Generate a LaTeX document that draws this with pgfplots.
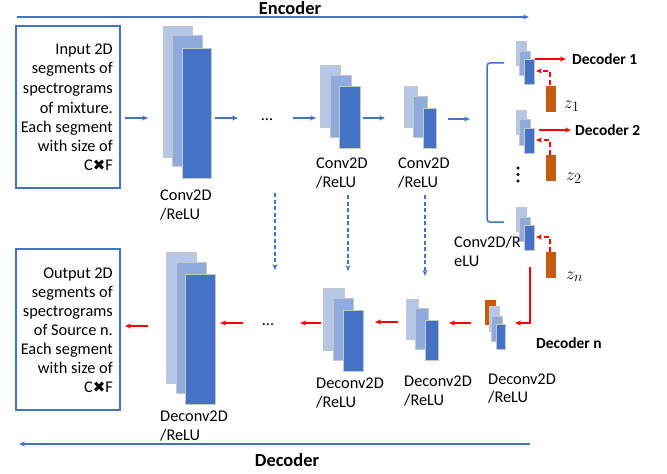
\documentclass[border=0pt]{standalone}
\usepackage{pgfplots}
\pgfplotsset{compat=1.18}
\usepackage{fontspec}
\setmainfont{Carlito}
\newfontfamily\dv{DejaVu Sans}
\usetikzlibrary{arrows.meta}
\definecolor{lb}{HTML}{B4C7E7}
\definecolor{mb}{HTML}{8FAADC}
\definecolor{db}{HTML}{4472C4}
\definecolor{og}{HTML}{C55A11}
\definecolor{ln}{HTML}{4472C4}
\definecolor{rd}{HTML}{FF0000}
\newcommand{\rb}[5]{\addplot[draw=black!22,line width=0.7bp,fill=#5] coordinates {(#1,#2)(#3,#2)(#3,#4)(#1,#4)} -- cycle;}
\newcommand{\ob}[4]{\addplot[draw=og,line width=0.5bp,fill=og] coordinates {(#1,#2)(#3,#2)(#3,#4)(#1,#4)} -- cycle;}
\newcommand{\CxF}{C\raisebox{-0.5bp}{\dv\fontsize{15}{15}\selectfont ✖}F}
\tikzset{
  bl/.style={ln,line width=1.4bp,-{Stealth[length=6bp,width=5bp]}},
  bld/.style={ln,line width=1.3bp,dash pattern=on 4bp off 2.5bp,-{Stealth[length=6bp,width=5bp]}},
  rl/.style={rd,line width=1.4bp,-{Stealth[length=6bp,width=5bp]}},
  rld/.style={rd,line width=1.4bp,dash pattern=on 5bp off 3bp,-{Stealth[length=6bp,width=5bp]}},
  tx/.style={inner sep=0pt,font=\fontsize{16.4}{18}\selectfont},
  bt/.style={inner sep=0pt,font=\fontsize{15.5}{18}\selectfont\bfseries},
  bt2/.style={inner sep=0pt,font=\fontsize{18.5}{20}\selectfont\bfseries},
  zt/.style={inner sep=0pt,font=\fontsize{19}{20}\selectfont},
}
\begin{document}
\begin{tikzpicture}
\begin{axis}[width=667bp,height=474bp,scale only axis,xmin=0,xmax=667,ymin=0,ymax=474,
  y dir=reverse,hide axis,clip=false]
% encoder / decoder lines
\addplot[bl,line width=1.6bp] coordinates {(17,17)(529,17)};
\node[bt2,anchor=base] at (axis cs:290,15) {Encoder};
\addplot[bl,line width=1.6bp] coordinates {(530,444)(19,444)};
\node[bt2,anchor=base] at (axis cs:287,466) {Decoder};
% input box
\addplot[draw=ln,line width=1.5bp] coordinates {(16,26)(120,26)(120,188)(16,188)} -- cycle;
\node[tx,anchor=base east] at (axis cs:113,55) {Input 2D};
\node[tx,anchor=base east] at (axis cs:113,74) {segments of};
\node[tx,anchor=base east] at (axis cs:113,93) {spectrograms};
\node[tx,anchor=base east] at (axis cs:113,113) {of mixture.};
\node[tx,anchor=base east] at (axis cs:113,132) {Each segment};
\node[tx,anchor=base east] at (axis cs:113,151) {with size of};
\node[tx,anchor=base east] at (axis cs:113,170) {\CxF};
% output box
\addplot[draw=ln,line width=1.5bp] coordinates {(16,249)(120,249)(120,410)(16,410)} -- cycle;
\node[tx,anchor=base east] at (axis cs:113,278) {Output 2D};
\node[tx,anchor=base east] at (axis cs:113,297) {segments of};
\node[tx,anchor=base east] at (axis cs:113,316) {spectrograms};
\node[tx,anchor=base east] at (axis cs:113,335) {of Source n.};
\node[tx,anchor=base east] at (axis cs:113,354) {Each segment};
\node[tx,anchor=base east] at (axis cs:113,373) {with size of};
\node[tx,anchor=base east] at (axis cs:113,392) {\CxF};
% encoder arrows
\addplot[bl] coordinates {(125,118)(148,118)};
\addplot[bl] coordinates {(215,118)(238,118)};
\node[tx,anchor=base] at (axis cs:267,120) {...};
\addplot[bl] coordinates {(293,118)(316,118)};
\addplot[bl] coordinates {(363,118)(385,118)};
\addplot[bl] coordinates {(448,119)(470,119)};
% conv1
\rb{163}{26}{192}{157}{lb}
\rb{172}{35}{202}{166}{mb}
\rb{182}{48}{211}{178}{db}
\node[tx,anchor=base west] at (axis cs:160,200) {Conv2D};
\node[tx,anchor=base west] at (axis cs:160,219) {/ReLU};
% conv2
\rb{320}{65}{340}{127}{lb}
\rb{330}{75}{351}{137}{mb}
\rb{339}{86}{360}{148}{db}
\node[tx,anchor=base west] at (axis cs:316,168) {Conv2D};
\node[tx,anchor=base west] at (axis cs:316,187) {/ReLU};
% conv3
\rb{404}{86}{417}{127}{lb}
\rb{413}{96}{427}{137}{mb}
\rb{423}{108}{436}{148}{db}
\node[tx,anchor=base west] at (axis cs:398,168) {Conv2D};
\node[tx,anchor=base west] at (axis cs:398,187) {/ReLU};
% bracket
\addplot[ln,line width=1.5bp,rounded corners=3bp] coordinates {(504,63)(487,63)(487,222)(504,222)};
% small stack A
\rb{516}{41}{526}{65}{lb}
\rb{519}{51}{530}{75}{mb}
\rb{524}{59}{534}{84}{db}
\addplot[rl] coordinates {(535,59)(566,59)};
\node[bt,anchor=base west] at (axis cs:572,65) {Decoder 1};
\ob{546}{86}{555}{111}
\addplot[rld] coordinates {(550,85)(550,71)(536,71)};
\node[zt,anchor=base west] at (axis cs:564,108) {$z_1$};
% small stack B
\rb{516}{110}{526}{134}{lb}
\rb{519}{119}{530}{145}{mb}
\rb{524}{128}{534}{153}{db}
\addplot[rl] coordinates {(539,130)(571,130)};
\node[bt,anchor=base west] at (axis cs:575,135) {Decoder 2};
\ob{546}{155}{555}{180}
\addplot[rld] coordinates {(550,155)(550,140)(536,140)};
\node[zt,anchor=base west] at (axis cs:566,180) {$z_2$};
\addplot[only marks,mark=*,mark size=1.3bp,black] coordinates {(518,168)(518,174.5)(518,181)};
% small stack C
\rb{516}{207}{526}{231}{lb}
\rb{519}{217}{530}{241}{mb}
\rb{524}{225}{534}{250}{db}
\ob{546}{252}{555}{277}
\addplot[rld] coordinates {(550,252)(550,237)(536,237)};
\node[zt,anchor=base west] at (axis cs:566,279) {$z_n$};
\node[tx,anchor=base west] at (axis cs:454,247) {Conv2D/R};
\node[tx,anchor=base west] at (axis cs:454,266) {eLU};
\addplot[rl] coordinates {(530,267)(530,323)(515,323)};
% decoder n stack
\ob{485}{300}{495}{324}
\rb{489}{306}{499}{331}{lb}
\rb{491}{316}{502}{341}{mb}
\rb{496}{324}{505}{349}{db}
\node[bt,anchor=base west] at (axis cs:536,348) {Decoder n};
\node[tx,anchor=base west] at (axis cs:488,384) {Deconv2D};
\node[tx,anchor=base west] at (axis cs:488,402) {/ReLU};
% decoder arrows
\addplot[rl] coordinates {(471,323)(449,323)};
\addplot[rl] coordinates {(398,322)(375,322)};
\addplot[rl] coordinates {(321,323)(300,323)};
\node[tx,anchor=base] at (axis cs:268,325) {...};
\addplot[rl] coordinates {(243,323)(220,323)};
\addplot[rl] coordinates {(148,326)(125,326)};
% deconv3
\rb{406}{299}{418}{339}{lb}
\rb{415}{308}{428}{349}{mb}
\rb{425}{320}{438}{360}{db}
\node[tx,anchor=base west] at (axis cs:404,386) {Deconv2D};
\node[tx,anchor=base west] at (axis cs:404,405) {/ReLU};
% deconv2
\rb{323}{288}{344}{350}{lb}
\rb{333}{298}{353}{360}{mb}
\rb{343}{310}{363}{371}{db}
\node[tx,anchor=base west] at (axis cs:316,388) {Deconv2D};
\node[tx,anchor=base west] at (axis cs:316,407) {/ReLU};
% deconv1
\rb{166}{252}{196}{383}{lb}
\rb{176}{262}{206}{393}{mb}
\rb{185}{274}{215}{404}{db}
\node[tx,anchor=base west] at (axis cs:160,421) {Deconv2D};
\node[tx,anchor=base west] at (axis cs:160,440) {/ReLU};
% skip connections
\addplot[bld] coordinates {(275,193)(275,270)};
\addplot[bld] coordinates {(348,195)(348,271)};
\addplot[bld] coordinates {(425,195)(425,276)};
\end{axis}
\path (current axis.south west) rectangle (current axis.north east);
\end{tikzpicture}
\end{document}
